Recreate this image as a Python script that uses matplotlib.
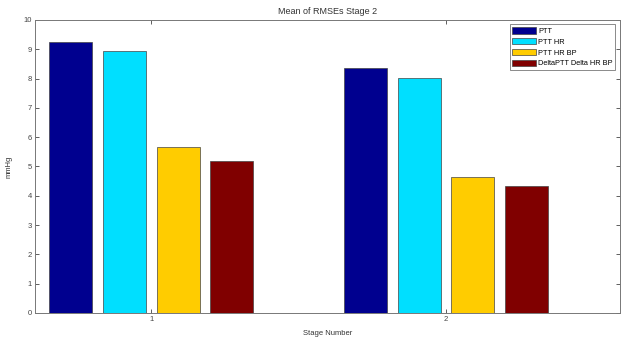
import numpy as np
import matplotlib.pyplot as plt

stages = [1, 2]
series_names = ['PTT', 'PTT HR', 'PTT HR BP', 'DeltaPTT Delta HR BP']
ptt = [9.25, 8.35]
ptt_hr = [8.95, 8.02]
ptt_hr_bp = [5.68, 4.65]
delta = [5.2, 4.33]
colors = ['#00008F', '#00DFFF', '#FFCC00', '#800000']

values = [ptt, ptt_hr, ptt_hr_bp, delta]

plt.rcParams['font.family'] = ['Liberation Sans', 'DejaVu Sans']
fig = plt.figure(figsize=(6.23, 3.38), dpi=100)
ax = fig.add_axes([0.056, 0.074, 0.939, 0.867])

x = np.array(stages, dtype=float)
width = 0.146
step = 0.182
offsets = (np.arange(4) - 1.5) * step
for vals, off, col, name in zip(values, offsets, colors, series_names):
    ax.bar(x + off, vals, width, color=col, edgecolor='#444444', linewidth=0.5, label=name)

ax.set_xlim(0.605, 2.59)
ax.set_ylim(0, 10)
ax.set_xticks(stages)
ax.set_yticks(range(0, 11))
ax.tick_params(direction='in', length=3, width=0.6, labelsize=5.5, colors='#444444',
               top=True, right=True, pad=2)
for s in ax.spines.values():
    s.set_color('#777777')
    s.set_linewidth(0.7)
ax.set_title('Mean of RMSEs Stage 2', fontsize=6.5, color='#333333', pad=4)
ax.set_xlabel('Stage Number', fontsize=5.5, color='#333333', labelpad=5)
ax.set_ylabel('mmHg', fontsize=5.5, color='#333333', labelpad=8)

leg = ax.legend(loc='upper right', fontsize=5.3, frameon=True, fancybox=False,
                handlelength=3.2, handleheight=1.0, borderpad=0.35, labelspacing=0.42,
                handletextpad=0.35, borderaxespad=0.6)
leg.get_frame().set_edgecolor('#555555')
leg.get_frame().set_linewidth(0.6)

fig.savefig('out.png', dpi=100)
